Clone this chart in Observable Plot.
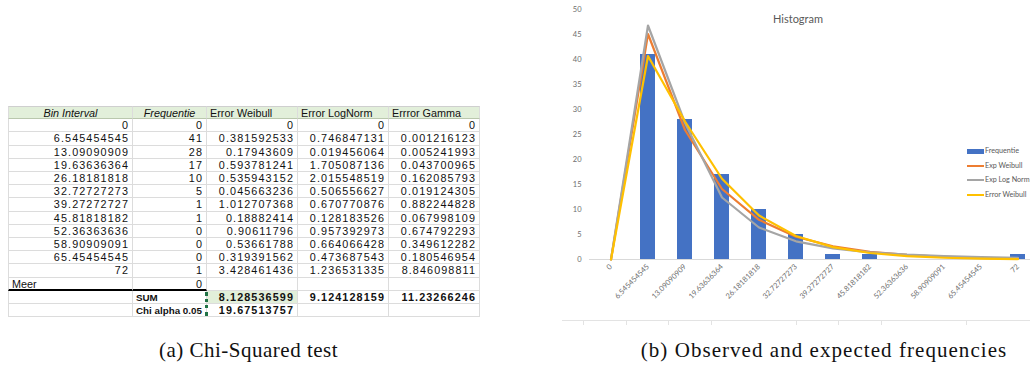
<!DOCTYPE html>
<html><head><meta charset="utf-8">
<script src="https://cdn.jsdelivr.net/npm/d3@7"></script>
<script src="https://cdn.jsdelivr.net/npm/@observablehq/plot@0.6"></script>
<style>
html,body{margin:0;padding:0;background:#fff;overflow:hidden;}
#page{position:relative;width:1030px;height:370px;overflow:hidden;}
.c{position:absolute;box-sizing:border-box;border-right:1px solid #dcdcdc;border-bottom:1px solid #dcdcdc;
  font-family:"Liberation Sans",Arial,sans-serif;font-size:10.8px;color:#111;white-space:nowrap;overflow:visible;
  text-align:right;padding:0 3px;letter-spacing:1.1px;}
.cap{position:absolute;font-family:"Liberation Serif","Times New Roman",serif;font-size:21px;color:#111;
  transform:translateX(-50%);white-space:nowrap;}
.lg{position:absolute;font-family:Lato,"Liberation Sans",sans-serif;font-size:7.2px;color:#595959;white-space:nowrap;}
#plot{position:absolute;left:560px;top:0;}
</style></head><body><div id="page"><div id="plot"></div></div>
<script>
// ---- data ----
const binLabels = ["0","6.545454545","13.09090909","19.63636364","26.18181818","32.72727273","39.27272727","45.81818182","52.36363636","58.90909091","65.45454545","72"];
const frequentie = [0,41,28,17,10,5,1,1,0,0,0,1];
const expWeibull = [0,45.1,25.9,14.1,7.93,4.54,2.63,1.54,0.906,0.537,0.319,0.19];
const expLogNorm = [0,46.8,27.3,12.4,6.4,3.64,2.22,1.43,0.957,0.664,0.474,0.345];
const errorWeibull = [0,40.7,27.6,16.15,8.8,4.7,2.48,1.3,0.675,0.35,0.181,0.093];
const seriesNames = ["Exp Weibull","Exp Log Norm","Error Weibull"];
const seriesColors = ["#ED7D31","#A5A5A5","#FFC000"];
const yTicks = [0,5,10,15,20,25,30,35,40,45,50];

const tableHeaders = ["Bin Interval","Frequentie","Error Weibull","Error LogNorm","Errror Gamma"];
const errWeibull = ["0","0.381592533","0.17943609","0.593781241","0.535943152","0.045663236","1.012707368","0.18882414","0.90611796","0.53661788","0.319391562","3.428461436"];
const errLogNorm = ["0","0.746847131","0.019456064","1.705087136","2.015548519","0.506556627","0.670770876","0.128183526","0.957392973","0.664066428","0.473687543","1.236531335"];
const errGamma = ["0","0.001216123","0.005241993","0.043700965","0.162085793","0.019124305","0.882244828","0.067998109","0.674792293","0.349612282","0.180546954","8.846098811"];
const meerLabel = "Meer", meerFreq = 0;
const sumLabel = "SUM", sums = ["8.128536599","9.124128159","11.23266246"];
const chiLabel = "Chi alpha 0.05", chiValue = "19.67513757";
const captions = ["(a) Chi-Squared test","(b) Observed and expected frequencies"];

// ---- table ----
const page = document.getElementById("page");
const colW = [125,74,91,91,91];
const colX = colW.reduce((a,w,i)=>{a.push(i? a[i-1]+colW[i-1] : 8); return a;},[]);
const rowH = 13.2, top0 = 106;
function cell(r,c,text,style={}){
  const d=document.createElement("div"); d.className="c";
  Object.assign(d.style,{left:colX[c]+"px",top:(top0+r*rowH)+"px",width:colW[c]+"px",height:rowH+"px",lineHeight:rowH+"px"},style);
  if(c===0) d.style.borderLeft="1px solid #dcdcdc";
  d.textContent=text; page.appendChild(d); return d;
}
tableHeaders.forEach((h,c)=>{
  cell(0,c,h,{background:"#e2efda",borderTop:"1px solid #cfcfcf",borderBottom:"1px solid #b9c7ad",
    textAlign:c<2?"center":"left",fontStyle:c<2?"italic":"normal",letterSpacing:"0"});
});
binLabels.forEach((b,i)=>{
  const r=i+1;
  cell(r,0,b); cell(r,1,String(frequentie[i])); cell(r,2,errWeibull[i]); cell(r,3,errLogNorm[i]); cell(r,4,errGamma[i]);
});
let r=binLabels.length+1;
cell(r,0,meerLabel,{textAlign:"left",letterSpacing:"0",borderBottom:"2px solid #000"});
cell(r,1,String(meerFreq),{borderBottom:"2px solid #000"});
cell(r,2,""); cell(r,3,""); cell(r,4,"");
r++;
const lblStyle={textAlign:"left",fontWeight:"bold",letterSpacing:"0",fontSize:"9.8px"};
cell(r,0,""); cell(r,1,sumLabel,lblStyle);
cell(r,2,sums[0],{fontWeight:"bold",background:"#e2efda"}); cell(r,3,sums[1],{fontWeight:"bold"}); cell(r,4,sums[2],{fontWeight:"bold"});
const sumRow=r;
r++;
cell(r,0,""); cell(r,1,chiLabel,lblStyle);
cell(r,2,chiValue,{fontWeight:"bold"}); cell(r,3,""); cell(r,4,"");
const mk=document.createElement("div");
Object.assign(mk.style,{position:"absolute",left:(colX[2]-2)+"px",top:(top0+sumRow*rowH+1)+"px",width:"0",height:(2*rowH-2)+"px",borderLeft:"3px dotted #217346"});
page.appendChild(mk);

// ---- chart ----
const bars = binLabels.map((b,i)=>({bin:b,freq:frequentie[i]}));
const lineData = [expWeibull,expLogNorm,errorWeibull].flatMap((vals,k)=>vals.map((v,i)=>({bin:binLabels[i],v,name:seriesNames[k]})));
const chart = Plot.plot({
  width:470, height:320, marginLeft:29, marginRight:0, marginTop:9, marginBottom:61,
  style:{fontFamily:"Lato, 'Liberation Sans', sans-serif", color:"#6e6e6e", background:"transparent", overflow:"visible"},
  x:{type:"band", domain:binLabels, range:[29,479], paddingInner:0.6, paddingOuter:0.3, label:null},
  y:{domain:[0,50], label:null},
  color:{domain:seriesNames, range:seriesColors},
  marks:[
    Plot.axisY({ticks:yTicks, tickSize:0, tickPadding:8, fontSize:7.5, label:null}),
    Plot.axisX({tickRotate:-45, tickSize:0, tickPadding:6, fontSize:7.5, label:null}),
    Plot.ruleY([0],{stroke:"#d9d9d9"}),
    Plot.barY(bars,{x:"bin", y:"freq", fill:"#4472C4"}),
    Plot.line(lineData,{x:"bin", y:"v", z:"name", stroke:"name", strokeWidth:2.2})
  ]
});
document.getElementById("plot").appendChild(chart);

// title
const t=document.createElement("div"); t.className="lg"; t.textContent="Histogram";
Object.assign(t.style,{left:"798px",top:"12px",fontSize:"11px",transform:"translateX(-50%)"}); page.appendChild(t);

// legend
const legItems=[{name:"Frequentie",color:"#4472C4",bar:true}].concat(seriesNames.map((n,i)=>({name:n,color:seriesColors[i]})));
legItems.forEach((it,i)=>{
  const y=151+i*14.6;
  const s=document.createElement("div");
  Object.assign(s.style,{position:"absolute",left:"967px",width:"17px",top:(y-(it.bar?2.5:1))+"px",height:(it.bar?5:2)+"px",background:it.color});
  page.appendChild(s);
  const l=document.createElement("div"); l.className="lg"; l.textContent=it.name;
  Object.assign(l.style,{left:"985px",top:(y-5)+"px",lineHeight:"10px"}); page.appendChild(l);
});

// bottom border of chart object
const bl=document.createElement("div");
Object.assign(bl.style,{position:"absolute",left:"562px",top:"320px",width:"468px",height:"4px",borderTop:"1px solid #e3e3e3",
  background:"repeating-linear-gradient(to right, transparent 0 21.5px, #e3e3e3 21.5px 22.5px, transparent 22.5px 42.5px)"});
page.appendChild(bl);

// captions
[[248.5,captions[0],"0.5px"],[824,captions[1],"1.05px"]].forEach(([x,txt,ls])=>{
  const c=document.createElement("div"); c.className="cap"; c.textContent=txt;
  Object.assign(c.style,{left:x+"px",top:"338px",letterSpacing:ls}); page.appendChild(c);
});
</script></body></html>
